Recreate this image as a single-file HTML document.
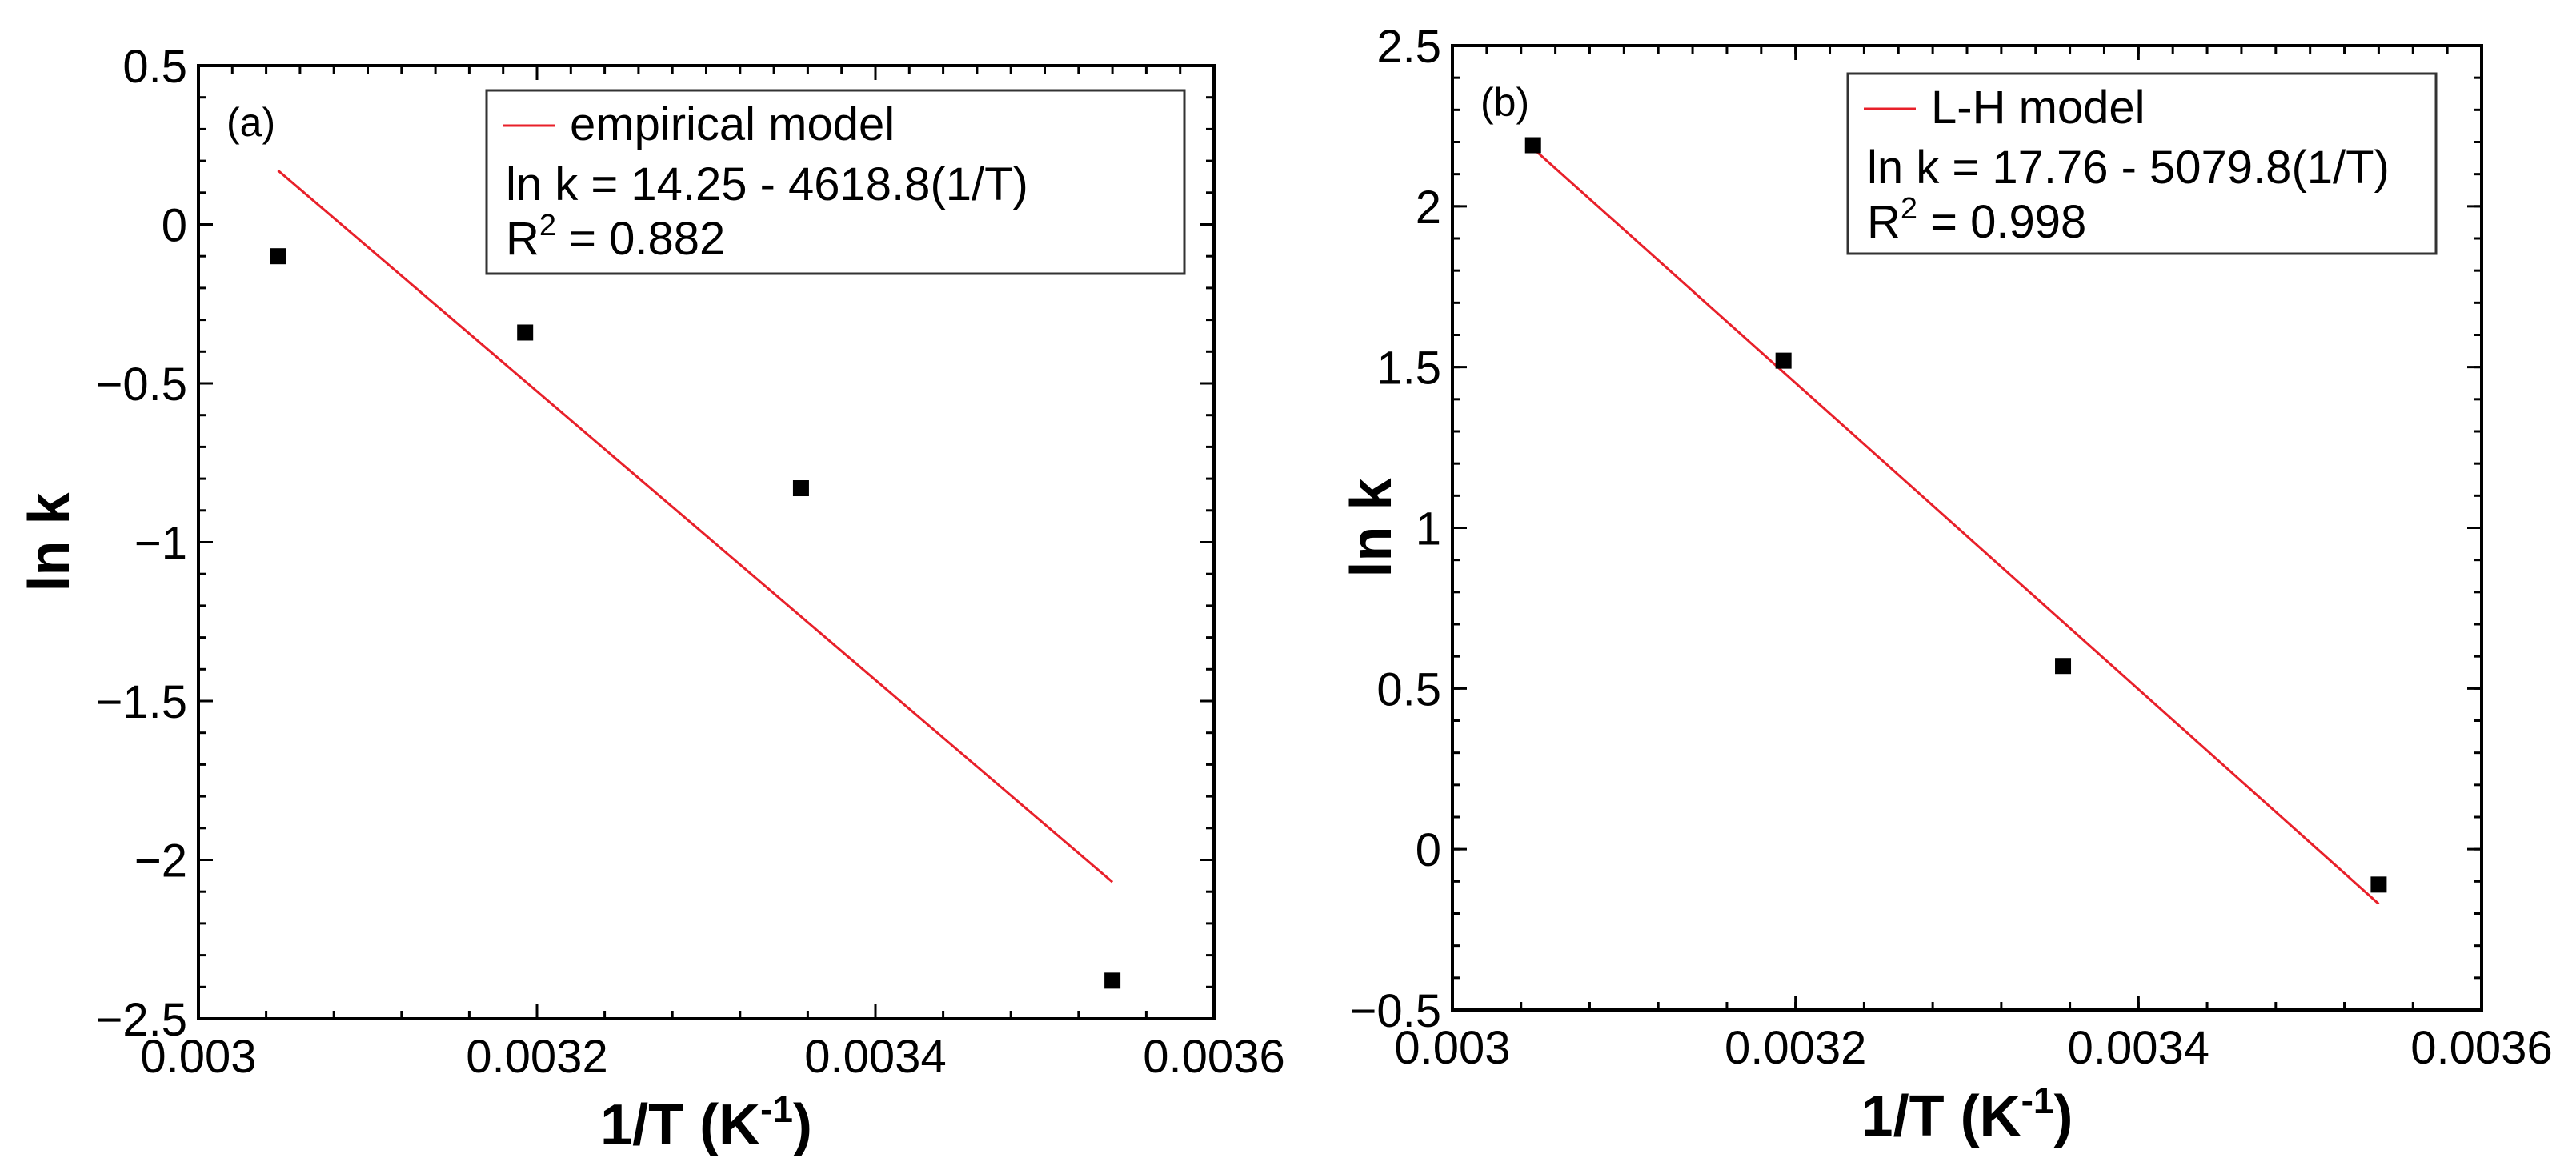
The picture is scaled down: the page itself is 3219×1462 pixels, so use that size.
<!DOCTYPE html>
<html><head><meta charset="utf-8"><style>
html,body{margin:0;padding:0;background:#fff;}
svg{display:block;font-family:"Liberation Sans",Arial,sans-serif;}
</style></head><body>
<svg id="fig" width="3219" height="1462" viewBox="0 0 3219 1462" xmlns="http://www.w3.org/2000/svg">
<rect width="3219" height="1462" fill="#fff"/>
<g id="panelA"></g>
<g id="panelB"></g>
</svg>
<script>
// Panel (a) data
const xTicks = [0.003, 0.0032, 0.0034, 0.0036];
const xTickLabels = ["0.003", "0.0032", "0.0034", "0.0036"];
const aYTicks = [0.5, 0, -0.5, -1, -1.5, -2, -2.5];
const aYTickLabels = ["0.5", "0", "\u22120.5", "\u22121", "\u22121.5", "\u22122", "\u22122.5"];
const aX = [0.003047, 0.003193, 0.003356, 0.003540];
const aY = [-0.10, -0.34, -0.83, -2.38];
const aLineX = [0.003047, 0.003540];
const aLineY = [0.17, -2.07];
// Panel (b) data
const bYTicks = [2.5, 2, 1.5, 1, 0.5, 0, -0.5];
const bYTickLabels = ["2.5", "2", "1.5", "1", "0.5", "0", "\u22120.5"];
const bX = [0.003047, 0.003193, 0.003356, 0.003540];
const bY = [2.19, 1.52, 0.57, -0.11];
const bLineX = [0.003047, 0.003540];
const bLineY = [2.18, -0.17];

const NS = "http://www.w3.org/2000/svg";
function mk(parent, tag, attrs, text) {
  const e = document.createElementNS(NS, tag);
  for (const k in attrs) e.setAttribute(k, attrs[k]);
  if (text !== undefined) e.textContent = text;
  parent.appendChild(e);
  return e;
}

function drawPanel(g, box, yMin, yMax, yTicks, yLabels, px, py, lx, ly, legend, tag) {
  const xMin = 0.003, xMax = 0.0036;
  const X = v => box.l + (v - xMin) / (xMax - xMin) * (box.r - box.l);
  const Y = v => box.b - (v - yMin) / (yMax - yMin) * (box.b - box.t);

  // minor ticks
  const minors = mk(g, "g", {stroke: "#000", "stroke-width": 3});
  
  
  for (let i = 0; i <= 15; i++) {
    const x = X(xMin + i * 0.00004);
    mk(minors, "line", {x1: x, y1: box.b, x2: x, y2: box.b - 10});
  }
  for (let i = 0; i <= 30; i++) {
    const x = X(xMin + i * 0.00002);
    mk(minors, "line", {x1: x, y1: box.t, x2: x, y2: box.t + 10});
  }
  for (let v = yMin; v <= yMax + 1e-9; v += 0.1) {
    const y = Y(v);
    mk(minors, "line", {x1: box.l, y1: y, x2: box.l + 10, y2: y});
    mk(minors, "line", {x1: box.r, y1: y, x2: box.r - 10, y2: y});
  }
  // x ticks & labels
  const xt = mk(g, "g", {});
  
  
  xTicks.forEach((v, i) => {
    const x = X(v);
    mk(xt, "line", {x1: x, y1: box.b, x2: x, y2: box.b - 18, stroke: "#000", "stroke-width": 3});
    mk(xt, "line", {x1: x, y1: box.t, x2: x, y2: box.t + 18, stroke: "#000", "stroke-width": 3});
    const t = mk(xt, "text", {x: x, y: box.b + 67, "font-size": 58, "text-anchor": "middle"}, xTickLabels[i]);
    
    
  });
  // y ticks & labels
  const yt = mk(g, "g", {});
  
  
  yTicks.forEach((v, i) => {
    const y = Y(v);
    mk(yt, "line", {x1: box.l, y1: y, x2: box.l + 18, y2: y, stroke: "#000", "stroke-width": 3});
    mk(yt, "line", {x1: box.r, y1: y, x2: box.r - 18, y2: y, stroke: "#000", "stroke-width": 3});
    const t = mk(yt, "text", {x: box.l - 14, y: y + 21, "font-size": 58, "text-anchor": "end"}, yLabels[i]);
    
    
  });
  // frame
  const fr = mk(g, "rect", {x: box.l, y: box.t, width: box.r - box.l, height: box.b - box.t, fill: "none", stroke: "#000", "stroke-width": 4});
  
  
  // fit line
  const fl = mk(g, "line", {x1: X(lx[0]), y1: Y(ly[0]), x2: X(lx[1]), y2: Y(ly[1]), stroke: "#e8202a", "stroke-width": 3});
  
  
  // points
  px.forEach((v, i) => {
    const r = mk(g, "rect", {x: X(v) - 10, y: Y(py[i]) - 10, width: 20, height: 20, fill: "#000"});
    
    
  });
  // panel tag
  const pt = mk(g, "text", {x: box.l + 35, y: box.t + 88, "font-size": 50}, tag);
  
  
  // legend
  const lg = mk(g, "g", {});
  
  
  mk(lg, "rect", {x: legend.x, y: legend.y, width: legend.w, height: legend.h, fill: "#fff", stroke: "#333", "stroke-width": 3});
  mk(lg, "line", {x1: legend.x + 20, y1: legend.y + 44, x2: legend.x + 85, y2: legend.y + 44, stroke: "#e8202a", "stroke-width": 3});
  const l1 = mk(lg, "text", {x: legend.x + 104, y: legend.y + 62, "font-size": 58}, legend.name);
  
  
  const l2 = mk(lg, "text", {x: legend.x + 24, y: legend.y + 137, "font-size": 58}, legend.eq);
  
  
  const l3 = mk(lg, "text", {x: legend.x + 24, y: legend.y + 205, "font-size": 58});
  
  
  l3.appendChild(document.createTextNode("R"));
  const sup = mk(l3, "tspan", {"font-size": 38, dy: -24}, "2");
  mk(l3, "tspan", {dy: 24}, " = " + legend.r2);
  // axis titles
  const xtitle = mk(g, "text", {x: (box.l + box.r) / 2, y: box.b + 157, "font-size": 72, "font-weight": "bold", "text-anchor": "middle"});
  
  
  xtitle.appendChild(document.createTextNode("1/T (K"));
  mk(xtitle, "tspan", {"font-size": 46, dy: -28}, "-1");
  mk(xtitle, "tspan", {dy: 28}, ")");
  const cx = legend.yTitleX, cy = (box.t + box.b) / 2;
  const ytitle = mk(g, "text", {x: cx, y: cy, "font-size": 72, "font-weight": "bold", "text-anchor": "middle", transform: "rotate(-90 " + cx + " " + cy + ")"}, "ln k");
  
  
}

drawPanel(document.getElementById("panelA"), {l: 248, r: 1517, t: 82, b: 1273}, -2.5, 0.5,
  aYTicks, aYTickLabels, aX, aY, aLineX, aLineY,
  {x: 608, y: 113, w: 872, h: 229, name: "empirical model", eq: "ln k = 14.25 - 4618.8(1/T)", r2: "0.882", yTitleX: 86}, "(a)");
drawPanel(document.getElementById("panelB"), {l: 1815, r: 3101, t: 57, b: 1262}, -0.5, 2.5,
  bYTicks, bYTickLabels, bX, bY, bLineX, bLineY,
  {x: 2309, y: 92, w: 735, h: 225, name: "L-H model", eq: "ln k = 17.76 - 5079.8(1/T)", r2: "0.998", yTitleX: 1738}, "(b)");
</script>
</body></html>
